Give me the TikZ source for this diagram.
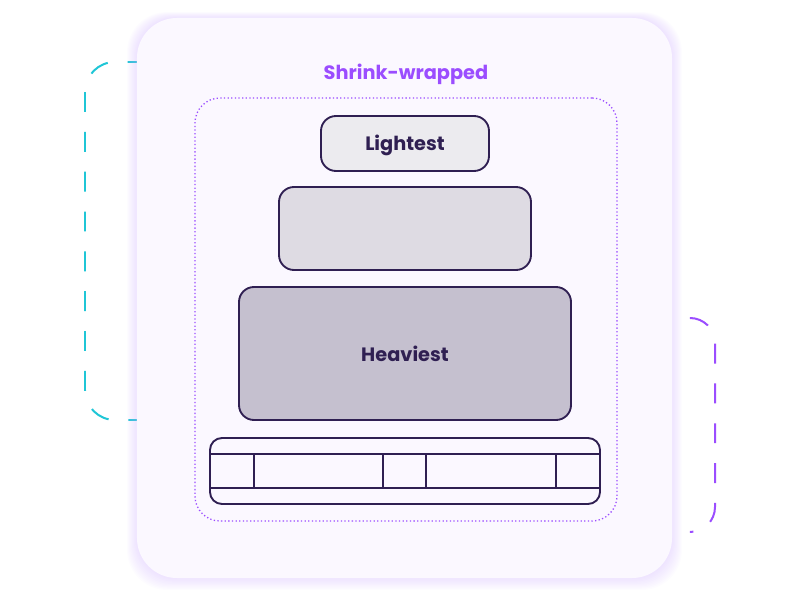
\documentclass[tikz,border=0pt]{standalone}
\usepackage{fontspec}
\setmainfont{Poppins}
\usepackage{xcolor}
\usepackage{tikz}
\usetikzlibrary{positioning}
\definecolor{ink}{HTML}{2F1F52}
\definecolor{violetmark}{HTML}{9B4DFF}
\definecolor{cyanmark}{HTML}{1FC6D6}
\definecolor{cardfill}{HTML}{FBF8FF}
\definecolor{glow}{HTML}{C9A8FF}
\tikzset{layer box/.style={rectangle,rounded corners=0.45cm,draw=ink,line width=1.6pt,inner sep=0pt,
            font=\bfseries\fontsize{16.5}{20}\selectfont,text=ink},
         bracket line/.style={line width=1.7pt,dash pattern=on 17pt off 17pt},
            }

\begin{document}
\begin{tikzpicture}[x=0.03cm,y=-0.03cm]
        \useasboundingbox (0,0) rectangle (800,597);

        % brackets behind the card
        \draw[bracket line,cyanmark,rounded corners=0.9cm,dash phase=9pt] (137,62) -- (85,62) -- (85,420) -- (137,420);
        \draw[bracket line,violetmark,rounded corners=0.75cm] (690,318) -- (715,318) -- (715,532) -- (690,532);

        % soft glow under the card
        \foreach \s in {1,...,10}
          \fill[glow,opacity=0.035,rounded corners=1.2cm]
            (137-\s,18-\s*0.6) rectangle (672+\s,578+\s*1.2);
        \node[rectangle,rounded corners=1.2cm,fill=cardfill,inner sep=0pt,
              minimum width=16.05cm,minimum height=16.8cm] (card) at (404.5,298) {};

        \node[text=violetmark,font=\bfseries\fontsize{16.5}{20}\selectfont] (title) at (406,74) {Shrink-wrapped};
        \node[rectangle,rounded corners=0.75cm,draw=violetmark,line width=1.1pt,dash pattern=on 1.1pt off 2pt,
              inner sep=0pt,minimum width=12.66cm,minimum height=12.69cm] (wrap) at (406,309.5) {};

        \node[layer box,fill=ink!9,minimum width=5.04cm,minimum height=1.65cm] (light) at (405,143.5) {};
        \node[text=ink,font=\bfseries\fontsize{16.5}{20}\selectfont] (lightlabel) at ([yshift=-0.06cm]light.center) {Lightest};
        \node[layer box,fill=ink!16,minimum width=7.56cm,minimum height=2.49cm] (middle) at (405,228.5) {};
        \node[layer box,fill=ink!28,minimum width=9.96cm,minimum height=3.99cm] (heavy) at (405,353.5) {Heaviest};

        % pallet
        \node[layer box,rounded corners=0.36cm,minimum width=11.7cm,minimum height=1.98cm] (pallet) at (405,471) {};
        \draw[ink,line width=1.6pt] (210,454) -- (600,454) (210,488) -- (600,488);
        \foreach \x in {254,383,426,556}
          \draw[ink,line width=1.6pt] (\x,454) -- (\x,488);
      \end{tikzpicture}
\end{document}
